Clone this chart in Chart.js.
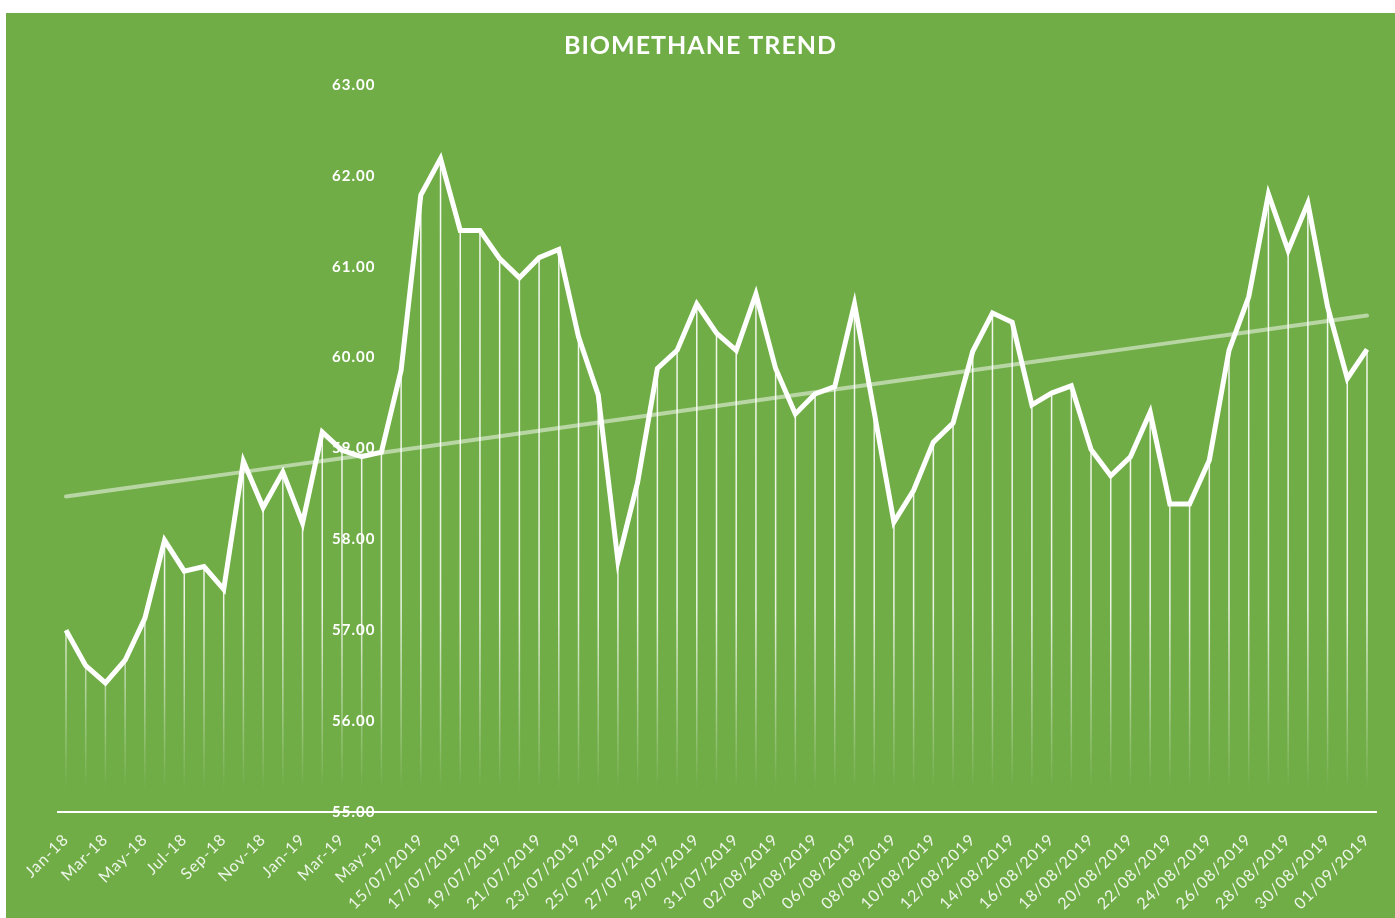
<!DOCTYPE html>
<html>
<head>
<meta charset="utf-8">
<script src="https://cdn.jsdelivr.net/npm/chart.js@4"></script>
<style>
  html, body { margin: 0; padding: 0; background: #fff; }
  #wrap { position: absolute; left: 6px; top: 13px; width: 1389px; height: 905px; background: #70ad47; }
</style>
</head>
<body>
<div id="wrap"><canvas id="trendChart"></canvas></div>
<script>
const monthLabels = ['Jan-18', 'Feb-18', 'Mar-18', 'Apr-18', 'May-18', 'Jun-18', 'Jul-18', 'Aug-18', 'Sep-18',
    'Oct-18', 'Nov-18', 'Dec-18', 'Jan-19', 'Feb-19', 'Mar-19', 'Apr-19', 'May-19', 'Jun-19'];

const dayLabels = ['15/07/2019', '16/07/2019', '17/07/2019', '18/07/2019', '19/07/2019', '20/07/2019',
    '21/07/2019', '22/07/2019', '23/07/2019', '24/07/2019', '25/07/2019', '26/07/2019', '27/07/2019',
    '28/07/2019', '29/07/2019', '30/07/2019', '31/07/2019', '01/08/2019', '02/08/2019', '03/08/2019',
    '04/08/2019', '05/08/2019', '06/08/2019', '07/08/2019', '08/08/2019', '09/08/2019', '10/08/2019',
    '11/08/2019', '12/08/2019', '13/08/2019', '14/08/2019', '15/08/2019', '16/08/2019', '17/08/2019',
    '18/08/2019', '19/08/2019', '20/08/2019', '21/08/2019', '22/08/2019', '23/08/2019', '24/08/2019',
    '25/08/2019', '26/08/2019', '27/08/2019', '28/08/2019', '29/08/2019', '30/08/2019', '31/08/2019',
    '01/09/2019'];

const monthValues = [57.00, 56.61, 56.42, 56.67, 57.13, 57.99, 57.65, 57.70, 57.45,
    58.86, 58.35, 58.74, 58.18, 59.18, 58.98, 58.91, 58.96, 59.86];

const dayValues = [61.79, 62.19, 61.40, 61.40, 61.09, 60.88, 61.10, 61.19, 60.23, 59.59,
    57.76, 58.63, 59.88, 60.08, 60.59, 60.27, 60.08, 60.70, 59.88, 59.38,
    59.60, 59.68, 60.59, 59.40, 58.19, 58.54, 59.07, 59.28, 60.07, 60.49,
    60.39, 59.48, 59.61, 59.69, 58.99, 58.70, 58.91, 59.40, 58.39, 58.39,
    58.87, 60.08, 60.67, 61.80, 61.18, 61.70, 60.56, 59.77, 60.09];

const yTicks = [55, 56, 57, 58, 59, 60, 61, 62, 63];

const labels = monthLabels.concat(dayLabels);
const values = monthValues.concat(dayValues);

// linear trendline (least squares) over the series
function trendOf(arr) {
    const n = arr.length;
    let sx = 0, sy = 0, sxy = 0, sxx = 0;
    arr.forEach((v, i) => { sx += i; sy += v; sxy += i * v; sxx += i * i; });
    const b = (n * sxy - sx * sy) / (n * sxx - sx * sx);
    const a = (sy - b * sx) / n;
    return arr.map((v, i) => a + b * i);
}

const dropLines = {
    id: 'dropLines',
    beforeDatasetsDraw(chart) {
        const {ctx, chartArea} = chart;
        const meta = chart.getDatasetMeta(0);
        const base = chart.scales.y.getPixelForValue(55);
        const g = ctx.createLinearGradient(0, chartArea.top, 0, base);
        g.addColorStop(0, 'rgba(255,255,255,0.95)');
        g.addColorStop(0.72, 'rgba(255,255,255,0.85)');
        g.addColorStop(0.97, 'rgba(255,255,255,0)');
        ctx.save();
        ctx.strokeStyle = g;
        ctx.lineWidth = 1.5;
        meta.data.forEach(pt => {
            ctx.beginPath();
            ctx.moveTo(pt.x, pt.y);
            ctx.lineTo(pt.x, base);
            ctx.stroke();
        });
        // horizontal axis line
        ctx.strokeStyle = '#ffffff';
        ctx.lineWidth = 2;
        ctx.beginPath();
        ctx.moveTo(chartArea.left - 9, base);
        ctx.lineTo(chartArea.right + 10, base);
        ctx.stroke();
        ctx.restore();
    }
};

const spacing = {
    id: 'spacing',
    beforeLayout(chart) { chart.ctx.letterSpacing = '1px'; },
    beforeDraw(chart) { chart.ctx.letterSpacing = '1px'; }
};

const ctx = document.getElementById('trendChart').getContext('2d');

new Chart(ctx, {
    type: 'line',
    data: {
        labels: labels,
        datasets: [{
            data: values,
            borderColor: '#ffffff',
            borderWidth: 5,
            borderJoinStyle: 'miter',
            pointRadius: 0,
            tension: 0,
            order: 0
        }, {
            data: trendOf(values),
            borderColor: 'rgba(255,255,255,0.5)',
            borderWidth: 4,
            borderCapStyle: 'round',
            pointRadius: 0,
            tension: 0,
            order: 1
        }]
    },
    options: {
        responsive: true,
        maintainAspectRatio: false,
        animation: false,
        layout: { padding: 0 },
        plugins: {
            legend: { display: false },
            tooltip: { enabled: false },
            title: {
                display: true,
                text: 'BIOMETHANE TREND',
                color: '#ffffff',
                font: { family: 'Lato', size: 25, weight: 'bold', lineHeight: 1.2 },
                padding: { top: 18, bottom: 24 }
            }
        },
        scales: {
            x: {
                offset: false,
                grid: { display: false, drawTicks: false },
                border: { display: false },
                afterFit(scale) {
                    scale.height = 106;
                    scale.paddingLeft = 60;
                    scale.paddingRight = 28;
                },
                ticks: {
                    autoSkip: false,
                    maxRotation: 45,
                    minRotation: 45,
                    padding: 18,
                    color: 'rgba(255,255,255,0.88)',
                    font: { family: 'Lato', size: 16 },
                    callback: (v, i) => (i % 2 === 0 ? labels[i] : '')
                }
            },
            y: {
                position: { x: 15.7 },
                min: yTicks[0],
                max: yTicks[yTicks.length - 1],
                grid: { display: false, drawTicks: false },
                border: { display: false },
                afterBuildTicks(scale) { scale.ticks = yTicks.map(v => ({ value: v })); },
                ticks: {
                    padding: 0,
                    color: '#ffffff',
                    font: { family: 'Lato', size: 15, weight: 'bold' },
                    callback: v => Number(v).toFixed(2)
                }
            }
        }
    },
    plugins: [spacing, dropLines]
});
</script>
</body>
</html>
